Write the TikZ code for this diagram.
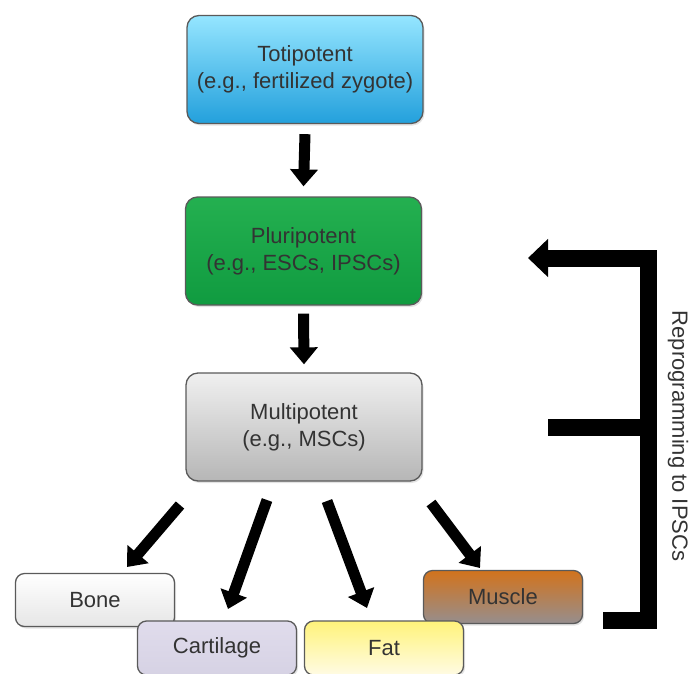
\documentclass[tikz,border=0pt]{standalone}
\usepackage{fontspec}
\setmainfont{Liberation Sans}
\usetikzlibrary{arrows.meta,shadows}
\definecolor{txt}{HTML}{333333}
\definecolor{bord}{HTML}{5A5A5A}
\begin{document}
\begin{tikzpicture}[x=1pt,y=-1pt,
  box/.style={draw=bord, line width=1.3pt, rounded corners=12pt, align=center,
    text=txt, font=\fontsize{22}{27}\selectfont, inner sep=0pt,
    drop shadow={opacity=0.22, shadow xshift=1.5pt, shadow yshift=-2pt}},
  bigbox/.style={box, minimum width=236pt, minimum height=108pt},
  smallbox/.style={box, rounded corners=9pt, minimum width=159pt, minimum height=53pt},
  flowarrow/.style={line width=11pt, -{Triangle[width=27pt,length=17pt]}},
  bracket/.style={line width=17pt, line cap=butt, line join=miter}
]
\useasboundingbox (0,0) rectangle (691,673);

\node[bigbox, top color=cyan!35!white!90!blue, bottom color={rgb,255:red,35;green,160;blue,220}] (toti) at (305,69.5) {Totipotent\\(e.g., fertilized zygote)};
\node[bigbox, top color={rgb,255:red,36;green,176;blue,80}, bottom color={rgb,255:red,16;green,155;blue,64}] (pluri) at (303.5,251) {Pluripotent\\(e.g., ESCs, IPSCs)};
\node[bigbox, top color={rgb,255:red,240;green,240;blue,240}, bottom color={rgb,255:red,182;green,182;blue,182}] (multi) at (304,427) {Multipotent\\(e.g., MSCs)};

\node[smallbox, top color=white, bottom color={rgb,255:red,230;green,230;blue,230}] (bone) at (95,600) {Bone};
\node[smallbox, top color={rgb,255:red,224;green,220;blue,236}, bottom color={rgb,255:red,214;green,210;blue,228}, minimum height=54pt] (cart) at (217,648) {Cartilage};
\node[smallbox, top color={rgb,255:red,210;green,115;blue,28}, bottom color={rgb,255:red,150;green,142;blue,142}] (muscle) at (503,597) {Muscle};
\node[smallbox, top color={rgb,255:red,255;green,243;blue,122}, bottom color={rgb,255:red,255;green,251;blue,228}, minimum height=54pt] (fat) at (384,648) {Fat};

\node[text=txt, font=\fontsize{22}{27}\selectfont, rotate=-90] (reprog) at (678,436) {Reprogramming to IPSCs};

% vertical arrows
\draw[flowarrow] ([yshift=-10pt]toti.south) -- ([yshift=10pt]pluri.north);
\draw[flowarrow] ([yshift=-8pt]pluri.south) -- ([yshift=8pt]multi.north);

% diagonal arrows
\coordinate (t1) at (180,505);
\coordinate (h1) at (127,567);
\coordinate (t2) at (267,500);
\coordinate (h2) at (228,609);
\coordinate (t3) at (327,501);
\coordinate (h3) at (367,608);
\coordinate (t4) at (431,503);
\coordinate (h4) at (480,568);
\draw[flowarrow] (t1) -- (h1);
\draw[flowarrow] (t2) -- (h2);
\draw[flowarrow] (t3) -- (h3);
\draw[flowarrow] (t4) -- (h4);

% reprogramming bracket
\coordinate (btop) at (648,258);
\coordinate (bmid) at (648,427);
\coordinate (bbot) at (648,620);
\coordinate (mid0) at (548,427);
\coordinate (bot0) at (603,620);
\coordinate (tip) at (528,258);
\draw[bracket] (mid0) -- (bmid);
\draw[bracket, -{Triangle[width=37pt,length=20pt]}] (bot0) -- (bbot) -- ([yshift=-8.5pt]btop) -- ++(0,-8.5) -- (tip);
\end{tikzpicture}
\end{document}
